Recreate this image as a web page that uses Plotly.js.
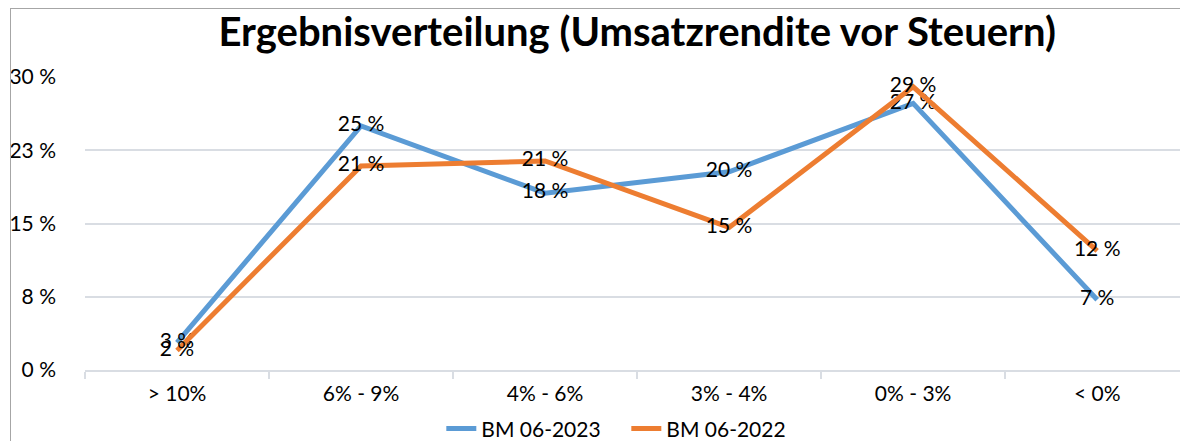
<!DOCTYPE html>
<html>
<head>
<meta charset="utf-8">
<script src="https://cdn.plot.ly/plotly-3.0.1.min.js"></script>
<style>
html,body{margin:0;padding:0;background:#fff;}
#chart{width:1180px;height:441px;position:relative;}
#frame{position:absolute;left:10px;top:8px;width:1180px;height:440px;border:1px solid #a6a6a6;pointer-events:none;}
</style>
</head>
<body>
<div id="chart"></div>
<div id="frame"></div>
<script>
const categories = ["> 10%", "6% - 9%", "4% - 6%", "3% - 4%", "0% - 3%", "< 0%"];
const bm2023 = [2.8, 25.0, 18.1, 20.3, 27.3, 7.2];
const bm2022 = [2.0, 20.9, 21.4, 14.6, 29.0, 12.2];
const seriesNames = ["BM 06-2023", "BM 06-2022"];
const yTickVals = [0, 7.5, 15, 22.5, 30];
const yTickText = ["0 %", "8 %", "15 %", "23 %", "30 %"];

const font = "Lato, 'Noto Sans', sans-serif";

function trace(y, name, color) {
  return {
    x: categories, y: y, name: name, type: "scatter", mode: "lines+text",
    line: {color: color, width: 5},
    texttemplate: "%{y:.0f} %", textposition: "middle center",
    textfont: {family: font, size: 21, color: "#000"},
    hoverinfo: "skip", cliponaxis: false
  };
}

const data = [trace(bm2023, seriesNames[0], "#5b9bd5"), trace(bm2022, seriesNames[1], "#ed7d31")];

const layout = {
  width: 1180, height: 441,
  margin: {l: 85, r: 0, t: 77, b: 71, autoexpand: false},
  paper_bgcolor: "#fff", plot_bgcolor: "#fff",
  font: {family: font, size: 21, color: "#000"},
  title: {text: "<b>Ergebnisverteilung (Umsatzrendite vor Steuern)</b>", font: {family: font, size: 40, color: "#000"},
          x: 0.54, xref: "container", xanchor: "center", y: 0.927, yref: "container", yanchor: "middle"},
  xaxis: {type: "category", range: [-0.5, 5.45], showgrid: false, zeroline: false,
          showline: true, linecolor: "#d9dde3", linewidth: 2,
          ticks: "outside", tickson: "boundaries", ticklen: 7, tickcolor: "#d9dde3", tickwidth: 2,
          ticklabelstandoff: 4,
          tickfont: {family: font, size: 21, color: "#000"}},
  yaxis: {range: [0, 30], tickvals: yTickVals, ticktext: yTickText, showgrid: true, gridcolor: "#d9dde3", gridwidth: 2,
          zeroline: false, showline: false, ticks: "", ticklabelstandoff: 28,
          tickfont: {family: font, size: 21, color: "#000"}},
  showlegend: true,
  legend: {orientation: "h", x: 0.374, xref: "container", xanchor: "left", y: -0.201, yref: "paper", yanchor: "middle",
           font: {family: font, size: 21, color: "#000"}, entrywidth: 140, entrywidthmode: "pixels", tracegroupgap: 0}
};

Plotly.newPlot("chart", data, layout, {displayModeBar: false, staticPlot: true});
</script>
</body>
</html>
